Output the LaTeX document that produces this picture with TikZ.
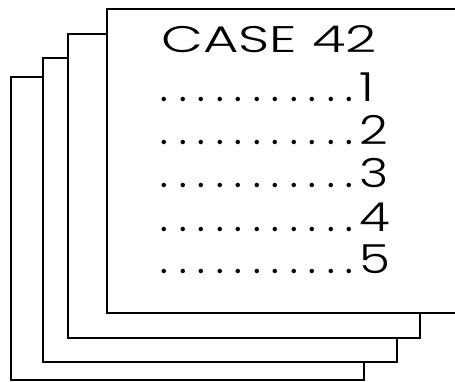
\documentclass[tikz,border=0pt]{standalone}
\usepackage{fontspec}
\setmainfont{Poppins}
\newfontfamily\thinfont{Poppins Light}
\tikzset{
  page/.style={draw=black, fill=white, line width=1.3pt},
  casetitle/.style={anchor=base west, inner sep=0pt, xscale=1.47, font=\thinfont\fontsize{37}{37}\selectfont},
  leader/.style={anchor=base west, inner sep=0pt, font=\fontsize{36}{36}\selectfont},
  digit/.style={anchor=base west, inner sep=0pt, xscale=1.25, font=\thinfont\fontsize{40}{40}\selectfont},
}
\newcommand{\dotrow}{\hbox to 203.5pt{\xleaders\hbox to 18.5pt{\hss.\hss}\hfill}}
\begin{document}
\begin{tikzpicture}[x=1pt, y=-1pt]
\useasboundingbox (0,0) rectangle (455,381);
\clip (0,0) rectangle (455,381);
\fill[white] (0,0) rectangle (455,381);
\draw[page] (11,77) rectangle (364,380);
\draw[page] (43,58) rectangle (397,362);
\draw[page] (68,34) rectangle (420,338);
\draw[page] (107,9) rectangle (470,313);
\node[casetitle] (title) at (161,52) {CASE 42};
\foreach \d/\y in {1/101, 2/144, 3/187, 4/231, 5/273}{
  \node[leader] (dots\d) at (155,\y) {\dotrow};
  \node[digit] (num\d) at (dots\d.base east) {\d};
}
\end{tikzpicture}
\end{document}
